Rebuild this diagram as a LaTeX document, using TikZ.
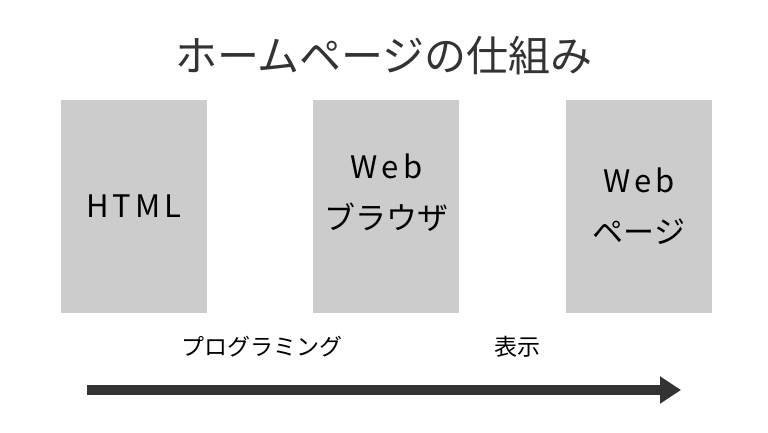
\documentclass[tikz,border=0pt]{standalone}
\usepackage{fontspec}
\setmainfont{Noto Sans CJK JP}
\newfontfamily\spacedlatin[LetterSpace=13]{Noto Sans CJK JP}
\usepackage{tikz}
\usetikzlibrary{positioning}
\usetikzlibrary{calc}
\usetikzlibrary{arrows.meta}
\definecolor{boxgray}{RGB}{204,204,204}
\definecolor{darkgray}{RGB}{51,51,51}
\tikzset{
  pagebox/.style={fill=boxgray, minimum width=146pt, minimum height=213pt, inner sep=0pt},
  boxtext/.style={text=black, align=center, font=\fontsize{31pt}{51pt}\selectfont},
  steptext/.style={text=black, font=\fontsize{23pt}{28pt}\selectfont}
}

\begin{document}
\begin{tikzpicture}
      \useasboundingbox (0,0) rectangle (768pt,432pt);
      \node[text centered, text=darkgray, font=\fontsize{42pt}{48pt}\selectfont] (title) at (384pt,376pt) {ホームページの仕組み};
      \node[pagebox] (html) at (134pt,225.5pt) {};
      \node[pagebox, right=106pt of html] (browser) {};
      \node[pagebox, right=106pt of browser] (page) {};
      \node[boxtext] (htmltext) at (html) {{\spacedlatin HTML}};
      \node[boxtext] (browsertext) at ([yshift=14pt]browser.center) {{\spacedlatin Web}\\ブラウザ};
      \node[boxtext] (pagetext) at (page) {{\spacedlatin Web}\\ページ};
      \node[steptext] (prog) at (262pt,85pt) {プログラミング};
      \node[steptext] (show) at (517pt,85pt) {表示};
      \coordinate (start) at (87pt,42pt);
      \coordinate (end) at (681pt,42pt);
      \draw [-{Triangle[length=21pt,width=26pt]}, line width=10pt, darkgray] (start) -- (end);
    \end{tikzpicture}
\end{document}
